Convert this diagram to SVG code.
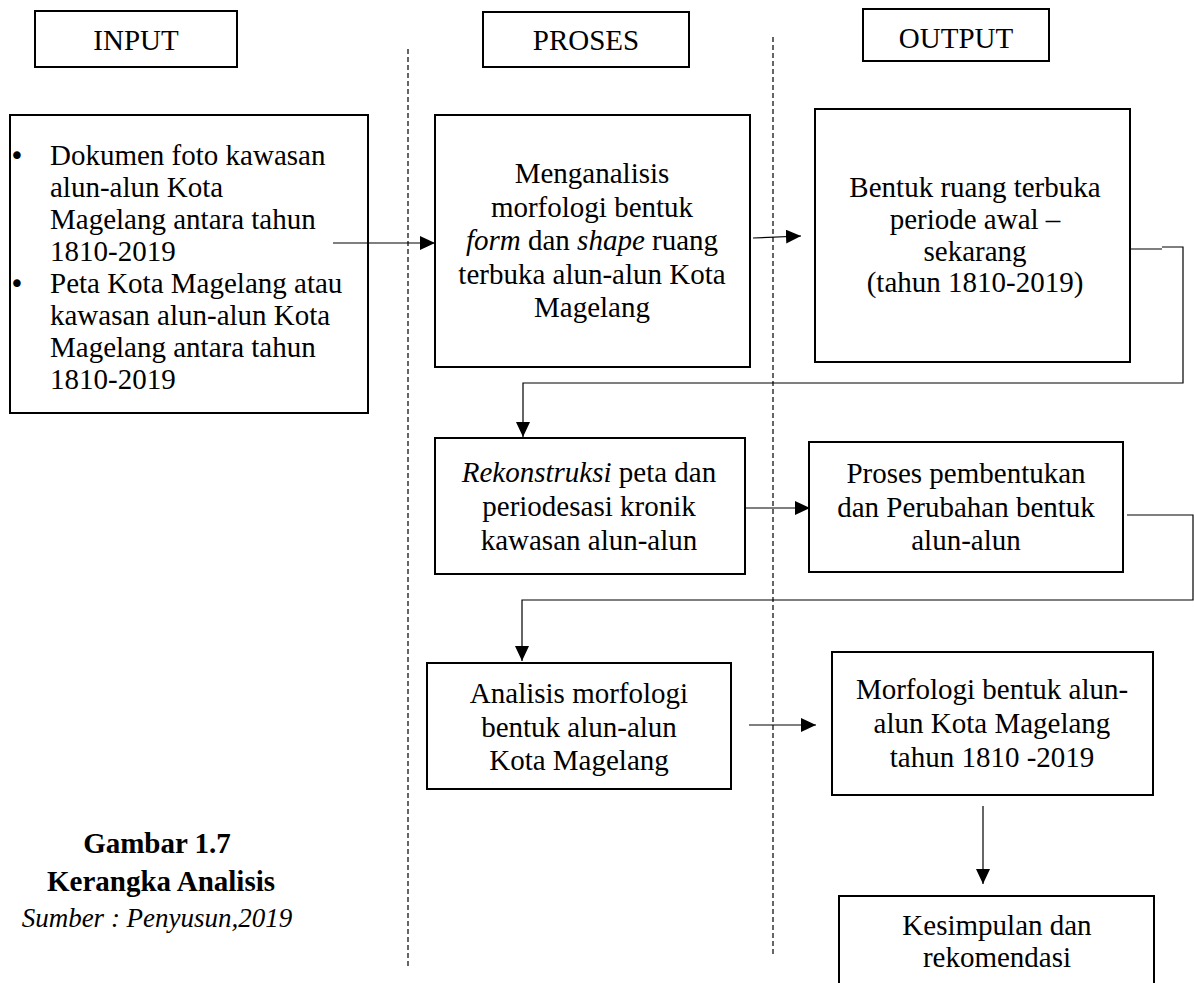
<svg xmlns="http://www.w3.org/2000/svg" width="1194" height="983" viewBox="0 0 1194 983">
<style>
.box{fill:#fff;stroke:#000;stroke-width:2}
.t{font-family:"Liberation Serif","Times New Roman",serif;font-size:29px;fill:#000}
.c{text-anchor:middle}
.i{font-style:italic}
.b{font-weight:bold}
.bul{font-family:"DejaVu Sans","Liberation Sans",sans-serif;font-size:26px;text-anchor:middle;fill:#000}
.dash{stroke:#000;stroke-width:1.2;stroke-dasharray:5 3;fill:none}
.con{stroke:#000;stroke-width:1.2;fill:none}
</style>
<defs>
<marker id="ah" markerUnits="userSpaceOnUse" markerWidth="16" markerHeight="15" refX="15" refY="7" orient="auto">
<path d="M0,0 L15,7 L0,14 z" fill="#000"/>
</marker>
</defs>
<rect width="1194" height="983" fill="#fff"/>
<g id="dividers">
<line class="dash" x1="408" y1="49" x2="408" y2="968"/>
<line class="dash" x1="773" y1="37" x2="773" y2="957"/>
</g>
<g id="hdr-input"><rect class="box" x="35" y="11" width="202" height="56"/><text class="t c" x="136" y="50">INPUT</text></g>
<g id="hdr-proses"><rect class="box" x="483" y="12" width="206" height="55"/><text class="t c" x="586" y="50">PROSES</text></g>
<g id="hdr-output"><rect class="box" x="863" y="9" width="186" height="52"/><text class="t c" x="956" y="48">OUTPUT</text></g>
<g id="input">
<rect class="box" x="10" y="115" width="358" height="298"/>
<text class="bul" x="17" y="165">•</text>
<text class="t" x="50" y="165">Dokumen foto kawasan</text>
<text class="t" x="50" y="197">alun-alun Kota</text>
<text class="t" x="50" y="229">Magelang antara tahun</text>
<text class="t" x="50" y="261">1810-2019</text>
<text class="bul" x="17" y="293">•</text>
<text class="t" x="50" y="293">Peta Kota Magelang atau</text>
<text class="t" x="50" y="325">kawasan alun-alun Kota</text>
<text class="t" x="50" y="357">Magelang antara tahun</text>
<text class="t" x="50" y="389">1810-2019</text>
</g>
<g id="proses1">
<rect class="box" x="435" y="115" width="315" height="252"/>
<text class="t c" x="592" y="183">Menganalisis</text>
<text class="t c" x="592" y="217">morfologi bentuk</text>
<text class="t c" x="592" y="250"><tspan class="i">form</tspan> dan <tspan class="i">shape</tspan> ruang</text>
<text class="t c" x="592" y="284">terbuka alun-alun Kota</text>
<text class="t c" x="592" y="317">Magelang</text>
</g>
<g id="output1">
<rect class="box" x="815" y="109" width="315" height="253"/>
<text class="t c" x="975" y="197">Bentuk ruang terbuka</text>
<text class="t c" x="975" y="229">periode awal –</text>
<text class="t c" x="975" y="261">sekarang</text>
<text class="t c" x="975" y="292">(tahun 1810-2019)</text>
</g>
<g id="proses2">
<rect class="box" x="435" y="438" width="310" height="136"/>
<text class="t c" x="589" y="482"><tspan class="i">Rekonstruksi</tspan> peta dan</text>
<text class="t c" x="589" y="516">periodesasi kronik</text>
<text class="t c" x="589" y="550">kawasan alun-alun</text>
</g>
<g id="output2">
<rect class="box" x="809" y="442" width="314" height="130"/>
<text class="t c" x="966" y="483">Proses pembentukan</text>
<text class="t c" x="966" y="517">dan Perubahan bentuk</text>
<text class="t c" x="966" y="550">alun-alun</text>
</g>
<g id="proses3">
<rect class="box" x="427" y="663" width="304" height="126"/>
<text class="t c" x="579" y="703">Analisis morfologi</text>
<text class="t c" x="579" y="737">bentuk alun-alun</text>
<text class="t c" x="579" y="770">Kota Magelang</text>
</g>
<g id="output3">
<rect class="box" x="832" y="652" width="321" height="143"/>
<text class="t c" x="992" y="699">Morfologi bentuk alun-</text>
<text class="t c" x="992" y="733">alun Kota Magelang</text>
<text class="t c" x="992" y="767">tahun 1810 -2019</text>
</g>
<g id="output4">
<rect class="box" x="839" y="896" width="315" height="100"/>
<text class="t c" x="997" y="935">Kesimpulan dan</text>
<text class="t c" x="997" y="967">rekomendasi</text>
</g>
<g id="caption">
<text class="t c b" x="157" y="853">Gambar 1.7</text>
<text class="t c b" x="161" y="891">Kerangka Analisis</text>
<text class="t c i" x="157" y="927" style="font-size:27px">Sumber : Penyusun,2019</text>
</g>
<g id="connectors">
<line class="con" x1="333" y1="243" x2="435" y2="243" marker-end="url(#ah)"/>
<line class="con" x1="753" y1="238" x2="801" y2="236" marker-end="url(#ah)"/>
<path class="con" d="M1131,249 H1162 M1162,247 H1183 V383 H523 V437" marker-end="url(#ah)"/>
<line class="con" x1="745" y1="508" x2="810" y2="508" marker-end="url(#ah)"/>
<path class="con" d="M1127,515 H1193 V600 H522 V661" marker-end="url(#ah)"/>
<line class="con" x1="749" y1="725" x2="816" y2="725" marker-end="url(#ah)"/>
<line class="con" x1="983" y1="806" x2="983" y2="884" marker-end="url(#ah)"/>
</g>
</svg>
